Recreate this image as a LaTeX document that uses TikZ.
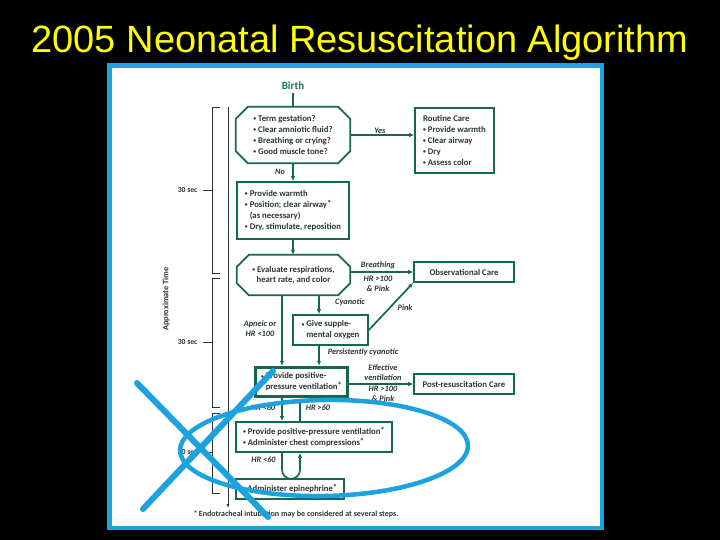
\documentclass[tikz,border=0pt]{standalone}
\usepackage{fontspec}
\setmainfont{Carlito}
\newfontfamily\titlefont{Liberation Sans}
\definecolor{nrpgreen}{RGB}{20,104,78}
\definecolor{nrpbirth}{RGB}{24,122,90}
\definecolor{nrptext}{RGB}{42,54,48}
\definecolor{nrpblue}{RGB}{28,162,222}
\definecolor{titleyellow}{RGB}{255,255,0}
\usetikzlibrary{arrows.meta}
\newcommand{\nbul}{\raisebox{0.7pt}{\scalebox{0.65}{\textbullet}}\ }
\newcommand{\fnmark}{\raisebox{1pt}{*}}
\newcommand{\octframe}[1]{%
  \draw[flowline] ([xshift=12pt]#1.north west) -- ([xshift=-12pt]#1.north east)
    -- ([yshift=-12pt]#1.north east) -- ([yshift=12pt]#1.south east)
    -- ([xshift=-12pt]#1.south east) -- ([xshift=12pt]#1.south west)
    -- ([yshift=12pt]#1.south west) -- ([yshift=-12pt]#1.north west) -- cycle;}

\begin{document}
\begin{tikzpicture}[x=1pt, y=-1pt,
    every node/.style={font=\fontsize{8.7}{10.9}\selectfont\bfseries, text=nrptext},
    flowline/.style={draw=nrpgreen, line width=1.7pt},
    flowarrow/.style={flowline, -{Latex[length=5pt,width=4.5pt]}},
    flowbox/.style={flowline, inner sep=0pt, align=left},
    octbox/.style={inner sep=0pt},
    lbl/.style={font=\fontsize{8.3}{10}\selectfont\bfseries\itshape, align=center},
    timeline/.style={draw=nrptext, line width=0.7pt},
    small/.style={font=\fontsize{7.7}{8.5}\selectfont\bfseries},
    scribble/.style={draw=nrpblue, line width=5pt, line cap=round}]
  \useasboundingbox (0,0) rectangle (720,540);
  \fill[black] (0,0) rectangle (720,540);
  % Slide title
  \node[font=\titlefont\fontsize{38}{40}\selectfont, text=titleyellow, anchor=base] (title) at (360,53) {2005 Neonatal Resuscitation Algorithm};
  % Chart panel
  \draw[line width=4.5pt, draw=nrpblue, fill=white] (109.5,65.5) rectangle (602,528);
  \coordinate (colA) at (282,0);
  \coordinate (colC) at (300,0);
  \coordinate (colB) at (319,0);
  % Birth and first questions
  \node[font=\fontsize{11}{12}\selectfont\bfseries, text=nrpbirth] (birth) at (293,86) {Birth};
  \node[octbox, minimum width=114pt, minimum height=56pt, align=left] (check) at (293,135) {\nbul Term gestation?\\\nbul Clear amniotic fluid?\\\nbul Breathing or crying?\\\nbul Good muscle tone?};
  \octframe{check}
  \draw[flowline] (birth) -- (check);
  \node[flowbox, minimum width=79pt, minimum height=65pt] (routine) at (454.5,140.5) {Routine Care\\\nbul Provide warmth\\\nbul Clear airway\\\nbul Dry\\\nbul Assess color};
  \draw[flowarrow] (check.east) -- (check.east -| routine.west);
  \node[lbl] (yes) at (380,131) {Yes};
  % Initial steps
  \node[flowbox, minimum width=112pt, minimum height=57pt] (initial) at (293,210.5) {\nbul Provide warmth\\\nbul Position; clear airway\fnmark\\\hphantom{\nbul}(as necessary)\\\nbul Dry, stimulate, reposition};
  \draw[flowarrow] (check) -- (initial);
  \node[lbl] (no) at (280,172) {No};
  % Evaluation
  \node[octbox, minimum width=113pt, minimum height=40pt, align=center] (evaluate) at (293.5,275) {\nbul Evaluate respirations,\\heart rate, and color};
  \octframe{evaluate}
  \draw[flowarrow] (initial.south) -- (initial.south |- evaluate.north);
  \node[flowbox, minimum width=100pt, minimum height=20pt, align=center] (observe) at (464,272) {Observational Care};
  \draw[flowarrow] (evaluate.east |- observe.west) -- (observe.west);
  \node[lbl] (breathing) at (378,265) {Breathing};
  \node[lbl] (hrpink) at (378,284) {HR >100\\\& Pink};
  % Oxygen
  \node[flowbox, minimum width=75pt, minimum height=30pt] (oxygen) at (330.5,330) {\nbul Give supple-\\\hphantom{\nbul}mental oxygen};
  \draw[flowarrow] (evaluate.south -| colB) -- (oxygen.north -| colB);
  \node[lbl] (cyanotic) at (350,302) {Cyanotic};
  \draw[flowarrow] (oxygen.east) -- (observe.south west);
  \node[lbl] (pink) at (405,308) {Pink};
  % Positive-pressure ventilation
  \node[flowbox, line width=3.5pt, minimum width=92pt, minimum height=29pt] (ppv) at (301.5,382) {\nbul Provide positive-\\\hphantom{\nbul}pressure ventilation\fnmark};
  \draw[flowarrow] (evaluate.south -| colA) -- (ppv.north -| colA);
  \node[lbl] (apneic) at (260,328.5) {Apneic or\\HR <100};
  \draw[flowarrow] (oxygen.south -| colB) -- (ppv.north -| colB);
  \node[lbl] (persist) at (363,352) {Persistently cyanotic};
  \node[flowbox, minimum width=100pt, minimum height=20pt, align=center] (postcare) at (464,384) {Post-resuscitation Care};
  \draw[flowarrow] (ppv.east |- postcare.west) -- (postcare.west);
  \node[lbl] (effective) at (383,372.5) {Effective\\ventilation};
  \node[lbl] (hrpink2) at (383,393.5) {HR >100\\\& Pink};
  % Chest compressions and epinephrine
  \node[flowbox, minimum width=156pt, minimum height=30pt] (ppvcc) at (314,437) {\nbul Provide positive-pressure ventilation\fnmark\\\nbul Administer chest compressions\fnmark};
  \draw[flowarrow] (ppv.south -| colA) -- (ppvcc.north -| colA);
  \node[lbl] (below60) at (263,408) {HR <60};
  \draw[flowarrow] (ppvcc.north -| colC) -- (ppv.south -| colC);
  \node[lbl] (above60) at (318,408) {HR >60};
  \node[flowbox, minimum width=108pt, minimum height=20pt] (epi) at (290,489) {\nbul Administer epinephrine\fnmark};
  \draw[flowarrow] (ppvcc.south -| colA) -- ++(0,17) arc[start angle=180, end angle=360, radius=9pt] -- (ppvcc.south -| colC);
  \node[lbl] (below60b) at (263.5,460) {HR <60};
  \node[small, font=\fontsize{8}{9}\selectfont\bfseries] (footnote) at (296,514) {*\,Endotracheal intubation may be considered at several steps.};
  % Time scale
  \draw[timeline, -{Latex[length=4pt,width=3pt]}] (228,107) -- (228,508);
  \draw[timeline] (220,107) -- (212,107) -- (212,273) -- (220,273);
  \draw[timeline] (220,278) -- (212,278) -- (212,407) -- (220,407);
  \draw[timeline] (220,413) -- (212,413) -- (212,493) -- (220,493);
  \foreach \y in {190,342,452} {
    \draw[timeline] (203,\y) -- (212,\y);
    \node[small, anchor=east] (sec\y) at (201,\y) {30 sec};
  }
  \node[small, font=\fontsize{8.3}{9}\selectfont\bfseries, rotate=90] (timeaxis) at (166,299) {Approximate Time};
  % Blue marks on the slide
  \draw[scribble, line width=6pt] (137,383) -- (268,517);
  \draw[scribble, line width=6pt] (143,509) -- (273,371);
  \draw[scribble, line width=4.5pt, rotate around={1:(324,448)}] (324,448) ellipse [x radius=144pt, y radius=48pt];
\end{tikzpicture}
\end{document}
